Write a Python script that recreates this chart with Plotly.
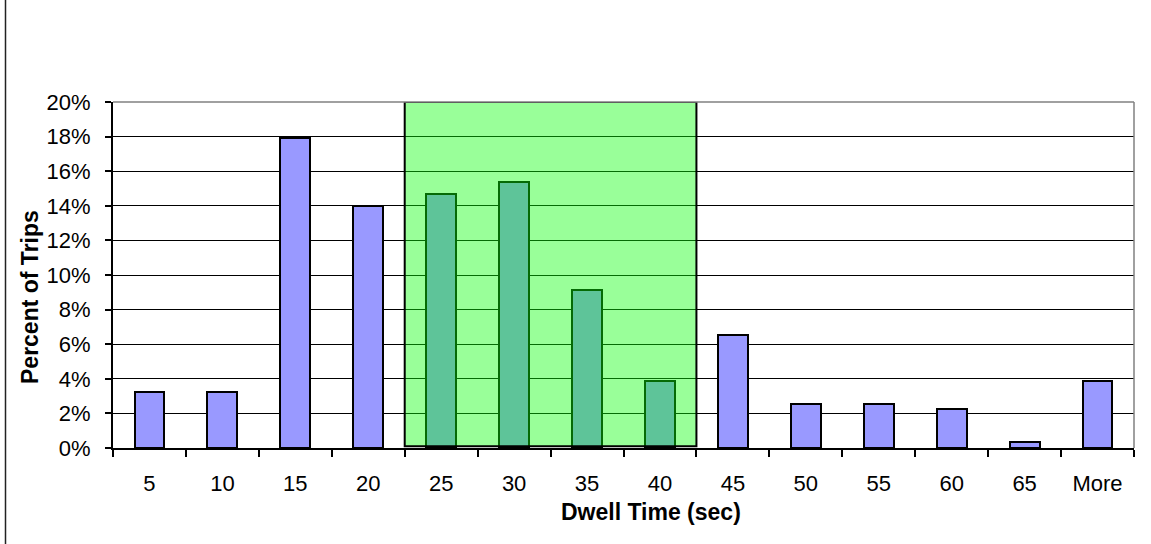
import plotly.graph_objects as go

# Dwell-time histogram: share of trips per 5-second bin
categories = ["5", "10", "15", "20", "25", "30", "35", "40",
              "45", "50", "55", "60", "65", "More"]
percent_of_trips = [0.0323, 0.0323, 0.179, 0.140, 0.147, 0.1535, 0.0913, 0.0388,
                    0.0655, 0.0257, 0.0257, 0.0227, 0.0032, 0.039]

# bins covered by the highlighted band
band_first, band_last = "25", "40"

y_ticks = [i / 50 for i in range(11)]  # 0% .. 20% in 2% steps

W, H = 1151, 544
ML, MR, MT, MB = 113, 17, 102, 96
pw, ph = W - ML - MR, H - MT - MB

FONT = "Liberation Sans, Arial, sans-serif"

fig = go.Figure()
fig.add_trace(go.Bar(
    x=categories,
    y=percent_of_trips,
    width=0.41,
    marker=dict(color="#9999FF", line=dict(color="black", width=2)),
    hoverinfo="x+y",
))

band_x0 = categories.index(band_first) - 0.5
band_x1 = categories.index(band_last) + 0.5

shapes = [
    # translucent green band over the 25-40 s bins
    dict(type="rect", xref="x", yref="y", x0=band_x0, x1=band_x1,
         y0=0.001, y1=0.20, fillcolor="rgba(12,255,12,0.42)",
         line=dict(color="black", width=2), layer="above"),
    # gray frame on top and right of the plot area
    dict(type="line", xref="paper", yref="paper", x0=0, x1=1, y0=1, y1=1,
         line=dict(color="#808080", width=1.5), layer="above"),
    dict(type="line", xref="paper", yref="paper", x0=1, x1=1, y0=0, y1=1,
         line=dict(color="#808080", width=1.5), layer="above"),
    # thin rule along the left edge of the page
    dict(type="line", xref="paper", yref="paper",
         x0=(5.5 - ML) / pw, x1=(5.5 - ML) / pw,
         y0=-(MB) / ph, y1=(H - MB) / ph,
         line=dict(color="#222222", width=1.5)),
]

annotations = [
    dict(text="<b>Dwell Time (sec)</b>", xref="paper", yref="paper",
         x=(651 - ML) / pw, y=-(512 - (H - MB)) / ph,
         xanchor="center", yanchor="middle", showarrow=False,
         font=dict(family=FONT, size=23, color="black")),
    dict(text="<b>Percent of Trips</b>", xref="paper", yref="paper",
         x=(30 - ML) / pw, y=((H - MB) - 297) / ph, textangle=-90,
         xanchor="center", yanchor="middle", showarrow=False,
         font=dict(family=FONT, size=23, color="black")),
]

fig.update_layout(
    width=W, height=H,
    margin=dict(l=ML, r=MR, t=MT, b=MB, pad=0),
    paper_bgcolor="white", plot_bgcolor="white",
    showlegend=False,
    font=dict(family=FONT, color="black"),
    shapes=shapes,
    annotations=annotations,
    bargap=0,
)

fig.update_xaxes(
    type="category",
    categoryorder="array", categoryarray=categories,
    range=[-0.5, len(categories) - 0.5],
    showline=True, linecolor="black", linewidth=2,
    showgrid=False, zeroline=False,
    ticks="outside", tickson="boundaries", ticklen=7, tickwidth=1.5, tickcolor="black",
    tickfont=dict(family=FONT, size=22, color="black"),
    ticklabelstandoff=15,
)

fig.update_yaxes(
    range=[0, 0.20],
    tickvals=y_ticks, tickformat=".0%",
    showline=True, linecolor="black", linewidth=2,
    showgrid=True, gridcolor="black", gridwidth=1,
    zeroline=False,
    ticks="outside", ticklen=6, tickwidth=1.5, tickcolor="black",
    tickfont=dict(family=FONT, size=22, color="black"),
    ticklabelstandoff=10,
)

fig.write_html("out.html")
